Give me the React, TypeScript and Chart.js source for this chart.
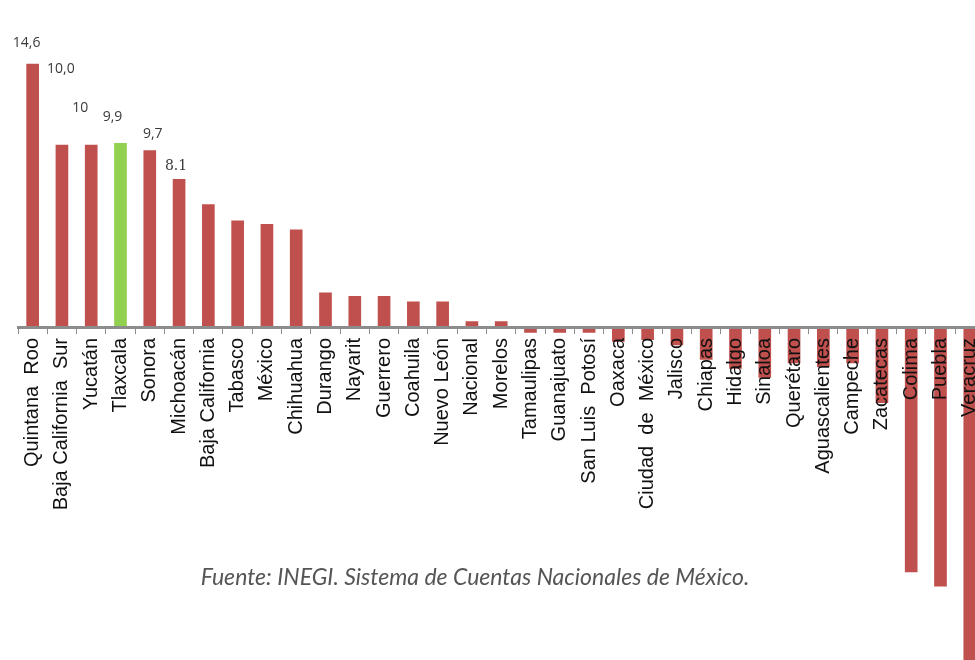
import { useEffect, useRef } from "react";
import { Chart, registerables } from "chart.js";

Chart.register(...registerables);

const categories = [
  "Quintana  Roo", "Baja California  Sur", "Yucatán", "Tlaxcala", "Sonora",
  "Michoacán", "Baja California", "Tabasco", "México", "Chihuahua",
  "Durango", "Nayarit", "Guerrero", "Coahuila", "Nuevo León",
  "Nacional", "Morelos", "Tamaulipas", "Guanajuato", "San Luis  Potosí",
  "Oaxaca", "Ciudad  de  México", "Jalisco", "Chiapas", "Hidalgo",
  "Sinaloa", "Querétaro", "Aguascalientes", "Campeche", "Zacatecas",
  "Colima", "Puebla", "Veracruz",
];

const growth = [
  14.6, 10.1, 10.1, 10.2, 9.8,
  8.2, 6.8, 5.9, 5.7, 5.4,
  1.9, 1.7, 1.7, 1.4, 1.4,
  0.3, 0.3, -0.3, -0.3, -0.3,
  -0.8, -0.7, -1.0, -1.8, -2.3,
  -2.8, -2.0, -2.2, -2.0, -4.2,
  -13.6, -14.4, -19.0,
];

const valueLabels = ["14,6", "10,0", "10", "9,9", "9,7", "8.1"];

const highlight = "Tlaxcala";
const footnote = "Fuente: INEGI. Sistema de Cuentas Nacionales de México.";

// label nudges relative to the top of each bar (layout only)
const labelNudges: [number, number][] = [
  [-6, -21], [-1, -76], [-11, -37], [-8, -26], [3, -17], [-3, -13],
];

export default function App() {
  const canvasRef = useRef<HTMLCanvasElement | null>(null);

  useEffect(() => {
    if (!canvasRef.current) return;
    const labelPlugin = {
      id: "valueLabels",
      afterDatasetsDraw(chart: any) {
        const meta = chart.getDatasetMeta(0);
        const ctx = chart.ctx;
        ctx.save();
        ctx.fillStyle = "#3a3a3a";
        ctx.textAlign = "center";
        ctx.textBaseline = "middle";
        valueLabels.forEach((t, i) => {
          const el = meta.data[i];
          if (!el) return;
          const [dx, dy] = labelNudges[i] || [0, -14];
          ctx.font = t.includes(".") ? "14px 'DejaVu Serif', serif" : "14px 'Open Sans', sans-serif";
          ctx.fillText(t, el.x + dx, el.y + dy);
        });
        ctx.restore();
      },
    };

    const chart = new Chart(canvasRef.current, {
      type: "bar",
      data: {
        labels: categories,
        datasets: [
          {
            data: growth,
            backgroundColor: categories.map((c) => (c === highlight ? "#92d050" : "#c0504d")),
            barThickness: 12,
          },
        ],
      },
      options: {
        animation: false,
        responsive: true,
        maintainAspectRatio: false,
        layout: { padding: { top: 39, bottom: 15, left: 18, right: 15 } },
        plugins: { legend: { display: false }, tooltip: { enabled: false } },
        scales: {
          y: { display: false, min: -21, max: 16 },
          x: {
            position: { y: 0 } as any,
            grid: {
              display: true,
              drawOnChartArea: false,
              drawTicks: true,
              tickLength: 5,
              color: "#8c8c8c",
              offset: true,
              z: 1,
            },
            border: { display: true, color: "#8c8c8c", width: 3, z: 1 },
            ticks: {
              autoSkip: false,
              maxRotation: 90,
              minRotation: 90,
              padding: 6,
              z: 2,
              color: "#111111",
              font: { family: "'Liberation Sans', Arial, sans-serif", size: 20 },
            },
          },
        },
      },
      plugins: [labelPlugin],
    });
    return () => chart.destroy();
  }, []);

  return (
    <div
      style={{
        position: "fixed",
        left: 0,
        top: 0,
        width: 975,
        height: 660,
        overflow: "hidden",
        background: "#ffffff",
      }}
    >
      <div style={{ position: "absolute", left: 0, top: 0, width: 1000, height: 720 }}>
        <canvas ref={canvasRef} />
      </div>
      <div
        style={{
          position: "absolute",
          left: 0,
          width: 950,
          top: 562,
          textAlign: "center",
          fontFamily: "Lato, 'Open Sans', sans-serif",
          fontStyle: "italic",
          fontSize: 23,
          color: "#555555",
        }}
      >
        {footnote}
      </div>
    </div>
  );
}
